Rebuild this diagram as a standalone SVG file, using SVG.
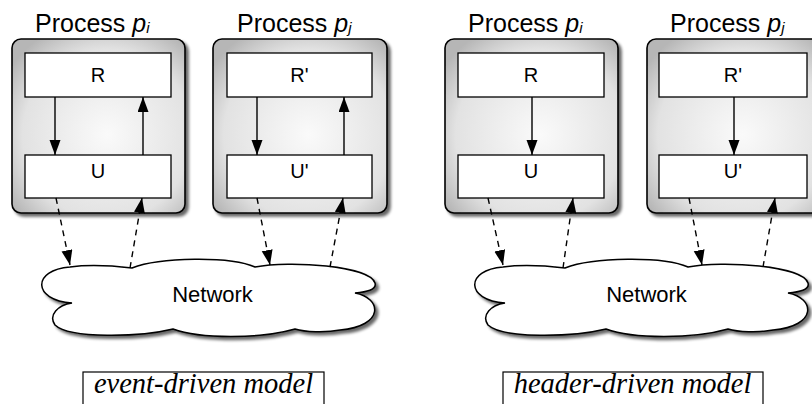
<svg xmlns="http://www.w3.org/2000/svg" width="812" height="404" viewBox="0 0 812 404">
  <defs>
    <radialGradient id="procFill" cx="55%" cy="55%" r="68%">
      <stop offset="0" stop-color="#fafafa"/>
      <stop offset="0.72" stop-color="#e2e2e2"/>
      <stop offset="1" stop-color="#b6b6b6"/>
    </radialGradient>
    <filter id="shadow" x="-10%" y="-10%" width="125%" height="125%">
      <feGaussianBlur in="SourceAlpha" stdDeviation="1.6"/>
      <feOffset dx="3" dy="3" result="b"/>
      <feComponentTransfer><feFuncA type="linear" slope="0.6"/></feComponentTransfer>
      <feMerge><feMergeNode/><feMergeNode in="SourceGraphic"/></feMerge>
    </filter>
    <marker id="arrow" markerUnits="userSpaceOnUse" markerWidth="16" markerHeight="12" refX="15" refY="5.5" orient="auto">
      <path d="M0,0 L15,5.5 L0,11 z" fill="#000"/>
    </marker>
    <path id="cloud" d="M72,303 C32,300 32,270 70,267 C92,264 115,266 132,268 C160,257 230,256 255,267 C290,260 370,266 375,283 C377,290 366,292 355,293 C382,298 385,326 340,330 C325,333 305,332 295,329 C260,339 200,339 173,329 C140,337 70,339 55,325 C48,315 58,305 72,303 Z"/>
  </defs>
  <style>
    .proc { fill: url(#procFill); stroke: #000; stroke-width: 1.6; }
    .unit { fill: #fff; stroke: #000; stroke-width: 1.3; }
    .cloud { fill: #fff; stroke: #000; stroke-width: 1.5; }
    .title { font-family: "Liberation Sans", Arial, sans-serif; font-size: 25px; fill: #000; }
    .ital { font-style: italic; }
    .lbl { font-family: "Liberation Sans", Arial, sans-serif; font-size: 20px; fill: #000; text-anchor: middle; }
    .net { font-family: "Liberation Sans", Arial, sans-serif; font-size: 22px; fill: #000; text-anchor: middle; }
    .model { font-family: "Liberation Serif", "Times New Roman", serif; font-style: italic; font-size: 28.5px; fill: #000; text-anchor: middle; }
    .caption { fill: #fff; stroke: #000; stroke-width: 1.2; }
    .solid { stroke: #000; stroke-width: 1.4; fill: none; marker-end: url(#arrow); }
    .dashed { stroke: #000; stroke-width: 1.4; fill: none; stroke-dasharray: 6 5; marker-end: url(#arrow); }
  </style>

  <!-- event-driven model -->
  <g id="event-driven">
    <g id="ev-proc-i">
      <text class="title" x="35" y="32">Process <tspan class="ital">p</tspan><tspan class="ital" font-size="15" dy="1">i</tspan></text>
      <rect class="proc" x="12" y="39" width="173" height="174" rx="9" filter="url(#shadow)"/>
      <g id="ev-R"><rect class="unit" x="25" y="53" width="146" height="44"/><text class="lbl" x="98" y="81.5">R</text></g>
      <g id="ev-U"><rect class="unit" x="25" y="155" width="146" height="43"/><text class="lbl" x="98" y="177.5">U</text></g>
    </g>
    <g id="ev-proc-j">
      <text class="title" x="237" y="32">Process <tspan class="ital">p</tspan><tspan class="ital" font-size="15" dy="1">j</tspan></text>
      <rect class="proc" x="213" y="39" width="174" height="174" rx="9" filter="url(#shadow)"/>
      <g id="ev-R2"><rect class="unit" x="227" y="53" width="145" height="44"/><text class="lbl" x="299.5" y="81.5">R'</text></g>
      <g id="ev-U2"><rect class="unit" x="227" y="155" width="145" height="43"/><text class="lbl" x="299.5" y="177.5">U'</text></g>
    </g>
    <g id="ev-network">
      <use href="#cloud" class="cloud" filter="url(#shadow)"/>
      <text class="net" x="212.5" y="302">Network</text>
    </g>
    <g id="ev-caption">
      <rect class="caption" x="83" y="372" width="241" height="40"/>
      <text class="model" x="203.5" y="393">event-driven model</text>
    </g>
    <g id="ev-connectors">
      <line class="solid" x1="55" y1="97" x2="55" y2="155"/>
      <line class="solid" x1="143" y1="155" x2="143" y2="97"/>
      <line class="solid" x1="257" y1="97" x2="257" y2="155"/>
      <line class="solid" x1="344" y1="155" x2="344" y2="97"/>
      <line class="dashed" x1="56" y1="198" x2="70" y2="265"/>
      <line class="dashed" x1="130" y1="268" x2="142" y2="198"/>
      <line class="dashed" x1="257" y1="198" x2="270" y2="265"/>
      <line class="dashed" x1="330" y1="267" x2="343" y2="198"/>
    </g>
  </g>

  <!-- header-driven model -->
  <g id="header-driven" transform="translate(433,0)">
    <g id="hd-proc-i">
      <text class="title" x="35" y="32">Process <tspan class="ital">p</tspan><tspan class="ital" font-size="15" dy="1">i</tspan></text>
      <rect class="proc" x="12" y="39" width="173" height="174" rx="9" filter="url(#shadow)"/>
      <g id="hd-R"><rect class="unit" x="25" y="53" width="146" height="44"/><text class="lbl" x="98" y="81.5">R</text></g>
      <g id="hd-U"><rect class="unit" x="25" y="155" width="146" height="43"/><text class="lbl" x="98" y="177.5">U</text></g>
    </g>
    <g id="hd-proc-j">
      <text class="title" x="237" y="32">Process <tspan class="ital">p</tspan><tspan class="ital" font-size="15" dy="1">j</tspan></text>
      <rect class="proc" x="214" y="39" width="174" height="174" rx="9" filter="url(#shadow)"/>
      <g id="hd-R2"><rect class="unit" x="226" y="53" width="148" height="44"/><text class="lbl" x="300" y="81.5">R'</text></g>
      <g id="hd-U2"><rect class="unit" x="226" y="155" width="148" height="43"/><text class="lbl" x="300" y="177.5">U'</text></g>
    </g>
    <g id="hd-network">
      <use href="#cloud" class="cloud" filter="url(#shadow)"/>
      <text class="net" x="213.5" y="302">Network</text>
    </g>
    <g id="hd-caption">
      <rect class="caption" x="70" y="372" width="260" height="40"/>
      <text class="model" x="199.5" y="393">header-driven model</text>
    </g>
    <g id="hd-connectors">
      <line class="solid" x1="99" y1="97" x2="99" y2="155"/>
      <line class="solid" x1="301" y1="97" x2="301" y2="155"/>
      <line class="dashed" x1="55" y1="198" x2="70" y2="265"/>
      <line class="dashed" x1="130" y1="268" x2="140" y2="198"/>
      <line class="dashed" x1="256" y1="198" x2="269" y2="265"/>
      <line class="dashed" x1="330" y1="267" x2="342" y2="198"/>
    </g>
  </g>
</svg>
